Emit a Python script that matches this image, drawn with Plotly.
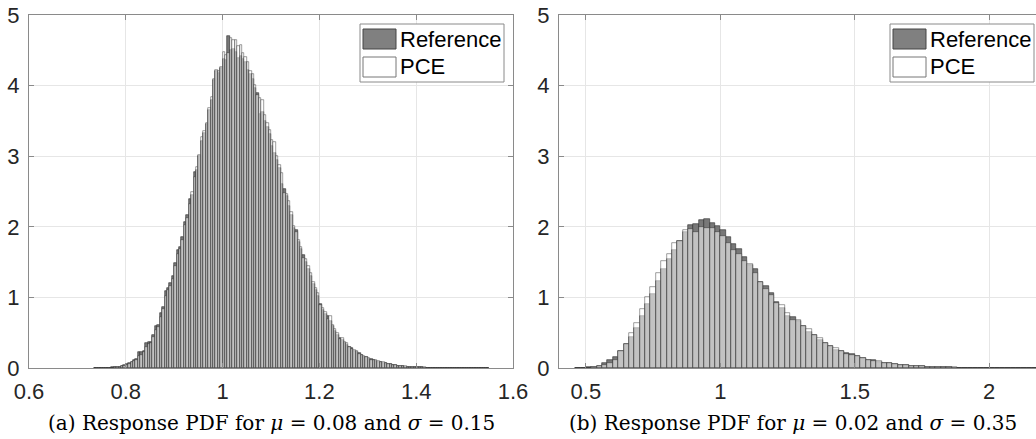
import numpy as np
import plotly.graph_objects as go

W, H = 1036, 439

# ---------------- data: panel (a) ----------------
left_bin_start = 0.735
left_bin_width = 0.005
left_reference = [
    0.001, 0.002, 0.002, 0.003, 0.004, 0.005, 0.007, 0.009, 0.012, 0.016,   # 0.735-0.780
    0.021, 0.028, 0.040, 0.058, 0.075, 0.090, 0.120, 0.130, 0.230, 0.225,   # 0.785-0.830
    0.235, 0.350, 0.365, 0.375, 0.467, 0.600, 0.610, 0.775, 0.870, 1.090,   # 0.835-0.880
    1.140, 1.200, 1.300, 1.490, 1.670, 1.720, 1.860, 2.070, 2.170, 2.400,   # 0.885-0.930
    2.450, 2.770, 2.800, 3.000, 3.220, 3.330, 3.450, 3.660, 3.800, 4.080,   # 0.935-0.980
    4.200, 4.180, 4.250, 4.370, 4.360, 4.700, 4.500, 4.520, 4.480, 4.390,   # 0.985-1.030
    4.420, 4.380, 4.330, 4.220, 4.160, 4.100, 3.960, 3.890, 3.600, 3.620,   # 1.035-1.080
    3.500, 3.420, 3.320, 3.150, 3.050, 2.950, 2.840, 2.600, 2.530, 2.440,   # 1.085-1.130
    2.300, 2.170, 1.980, 1.960, 1.780, 1.680, 1.600, 1.500, 1.400, 1.300,   # 1.135-1.180
    1.190, 1.100, 1.020, 0.910, 0.820, 0.770, 0.730, 0.660, 0.600, 0.530,   # 1.185-1.230
    0.470, 0.430, 0.390, 0.350, 0.330, 0.300, 0.280, 0.240, 0.220, 0.210,   # 1.235-1.280
    0.180, 0.160, 0.150, 0.130, 0.130, 0.110, 0.100, 0.090, 0.090, 0.075,   # 1.285-1.330
    0.065, 0.057, 0.050, 0.043, 0.038, 0.032, 0.028, 0.025, 0.021, 0.018,   # 1.335-1.380
    0.016, 0.013, 0.011, 0.010, 0.009, 0.008, 0.007, 0.006, 0.005, 0.005,   # 1.385-1.430
    0.004, 0.003, 0.003, 0.003, 0.002, 0.002, 0.002, 0.002, 0.001, 0.001,   # 1.435-1.480
    0.001, 0.001, 0.001, 0.001, 0.001, 0.001, 0.001, 0.001, 0.001, 0.001,   # 1.485-1.530
    0.001, 0.001, 0.001,                                                    # 1.535-1.545
]
left_pce = [
    0.001, 0.001, 0.002, 0.002, 0.003, 0.004, 0.005, 0.007, 0.009, 0.012,
    0.016, 0.022, 0.030, 0.045, 0.062, 0.080, 0.100, 0.115, 0.165, 0.180,
    0.220, 0.300, 0.340, 0.360, 0.440, 0.540, 0.580, 0.720, 0.830, 1.020,
    1.100, 1.160, 1.260, 1.440, 1.610, 1.680, 1.820, 2.020, 2.120, 2.330,
    2.490, 2.700, 2.850, 3.020, 3.270, 3.350, 3.470, 3.680, 3.840, 4.100,
    4.220, 4.200, 4.270, 4.470, 4.440, 4.460, 4.670, 4.640, 4.640, 4.560,
    4.570, 4.460, 4.400, 4.340, 4.200, 4.170, 4.010, 3.860, 3.830, 3.800,
    3.580, 3.470, 3.370, 3.230, 3.200, 3.000, 2.880, 2.760, 2.480, 2.470,
    2.360, 2.210, 2.010, 1.920, 1.810, 1.720, 1.560, 1.540, 1.440, 1.340,
    1.220, 1.140, 1.060, 0.890, 0.850, 0.800, 0.700, 0.730, 0.610, 0.550,
    0.490, 0.410, 0.420, 0.370, 0.350, 0.300, 0.270, 0.250, 0.240, 0.200,
    0.190, 0.170, 0.150, 0.140, 0.120, 0.120, 0.110, 0.100, 0.090, 0.080,
    0.070, 0.060, 0.055, 0.047, 0.040, 0.035, 0.030, 0.027, 0.023, 0.020,
    0.017, 0.015, 0.013, 0.011, 0.010, 0.009, 0.008, 0.007, 0.006, 0.005,
    0.004, 0.004, 0.003, 0.003, 0.003, 0.002, 0.002, 0.002, 0.002, 0.001,
    0.001, 0.001, 0.001, 0.001, 0.001, 0.001, 0.001, 0.001, 0.001, 0.001,
    0.001, 0.001, 0.001,
]

# ---------------- data: panel (b) ----------------
right_bin_start = 0.46
right_bin_width = 0.02
right_reference = [
    0.002, 0.004, 0.008, 0.020, 0.030, 0.070, 0.113, 0.155, 0.245, 0.340,   # 0.46-0.64
    0.445, 0.560, 0.740, 0.906, 1.055, 1.230, 1.400, 1.540, 1.670, 1.800,   # 0.66-0.84
    1.930, 2.025, 2.040, 2.090, 2.115, 2.050, 2.010, 1.955, 1.850, 1.752,   # 0.86-1.04
    1.686, 1.577, 1.465, 1.398, 1.220, 1.160, 1.058, 0.940, 0.845, 0.737,   # 1.06-1.24
    0.718, 0.665, 0.595, 0.515, 0.463, 0.397, 0.359, 0.312, 0.255, 0.246,   # 1.26-1.44
    0.208, 0.194, 0.170, 0.146, 0.109, 0.109, 0.090, 0.076, 0.066, 0.052,   # 1.46-1.64
    0.045, 0.038, 0.032, 0.028, 0.024, 0.019, 0.016, 0.013, 0.011, 0.009,   # 1.66-1.84
    0.007, 0.006, 0.005, 0.004, 0.004, 0.003, 0.003, 0.002, 0.002, 0.002,   # 1.86-2.04
    0.002, 0.001, 0.001, 0.001, 0.001, 0.001, 0.001,                        # 2.06-2.18
]
right_pce = [
    0.001, 0.003, 0.006, 0.015, 0.025, 0.040, 0.070, 0.120, 0.240, 0.340,
    0.490, 0.640, 0.840, 1.000, 1.150, 1.340, 1.520, 1.615, 1.775, 1.800,
    1.955, 1.970, 1.930, 2.000, 1.990, 1.980, 1.920, 1.870, 1.770, 1.670,
    1.620, 1.510, 1.480, 1.350, 1.220, 1.120, 1.035, 0.915, 0.893, 0.784,
    0.680, 0.675, 0.595, 0.548, 0.463, 0.420, 0.359, 0.312, 0.289, 0.240,
    0.200, 0.190, 0.170, 0.146, 0.120, 0.105, 0.095, 0.076, 0.066, 0.057,
    0.045, 0.040, 0.034, 0.028, 0.024, 0.021, 0.017, 0.014, 0.012, 0.010,
    0.008, 0.007, 0.006, 0.005, 0.004, 0.004, 0.003, 0.003, 0.003, 0.002,
    0.002, 0.002, 0.002, 0.001, 0.001, 0.001, 0.001,
]

left_xticks = [0.6, 0.8, 1.0, 1.2, 1.4, 1.6]
left_xticklabels = ["0.6", "0.8", "1", "1.2", "1.4", "1.6"]
right_xticks = [0.5, 1.0, 1.5, 2.0]
right_xticklabels = ["0.5", "1", "1.5", "2"]
y_ticks = [0, 1, 2, 3, 4, 5]
series_names = ["Reference", "PCE"]
captions = [
    "(a) Response PDF for <i>μ</i> = 0.08 and <i>σ</i> = 0.15",
    "(b) Response PDF for <i>μ</i> = 0.02 and <i>σ</i> = 0.35",
]

# ---------------- style ----------------
REF_FILL = "#787878"
REF_EDGE = "#2a2a2a"
PCE_FILL = "rgba(255,255,255,0.55)"
PCE_EDGE = "rgba(40,40,40,0.75)"
AXIS_COL = "#8a8a8a"
GRID_COL = "#e6e6e6"
TICK_FONT = dict(family="Liberation Sans, Arial, sans-serif", size=22, color="#262626")


def px(x):
    return x / W


def py(y):
    return 1 - y / H


def centers(start, width, n):
    return start + width * (np.arange(n) + 0.5)


fig = go.Figure()

panels = [
    dict(xa="x", ya="y", start=left_bin_start, width=left_bin_width,
         ref=left_reference, pce=left_pce),
    dict(xa="x2", ya="y2", start=right_bin_start, width=right_bin_width,
         ref=right_reference, pce=right_pce),
]
for p in panels:
    xc = centers(p["start"], p["width"], len(p["ref"]))
    fig.add_trace(go.Bar(
        x=xc, y=p["ref"], width=p["width"], name=series_names[0],
        marker=dict(color=REF_FILL, line=dict(color=REF_EDGE, width=0.6)),
        xaxis=p["xa"], yaxis=p["ya"], showlegend=False,
    ))
    xc2 = centers(p["start"], p["width"], len(p["pce"]))
    fig.add_trace(go.Bar(
        x=xc2, y=p["pce"], width=p["width"], name=series_names[1],
        marker=dict(color=PCE_FILL, line=dict(color=PCE_EDGE, width=0.6)),
        xaxis=p["xa"], yaxis=p["ya"], showlegend=False,
    ))

common_x = dict(showline=True, linecolor=AXIS_COL, linewidth=1, ticks="inside",
                ticklen=5, tickcolor=AXIS_COL, showgrid=True, gridcolor=GRID_COL,
                gridwidth=1, zeroline=False, tickfont=TICK_FONT, automargin=False,
                ticklabelstandoff=4, fixedrange=True)
common_y = dict(common_x)

# plot area pixel boxes
L_X0, L_X1 = 29, 513
R_X0, R_X1 = 559, 1036
Y_TOP, Y_BOT = 15, 368
left_range = [0.6, 1.6]
right_range = [0.4, 0.4 + (R_X1 - R_X0) * (1.0 / (L_X1 - L_X0)) * (1.8 / 1.0)]

fig.update_layout(
    width=W, height=H,
    margin=dict(l=0, r=0, t=0, b=0),
    paper_bgcolor="white", plot_bgcolor="white",
    barmode="overlay", bargap=0,
    xaxis=dict(common_x, domain=[px(L_X0), px(L_X1)], range=left_range, anchor="y",
               tickvals=left_xticks, ticktext=left_xticklabels, mirror="ticks"),
    yaxis=dict(common_y, domain=[py(Y_BOT), py(Y_TOP)], range=[0, 5], anchor="x",
               tickvals=y_ticks, mirror="ticks"),
    xaxis2=dict(common_x, domain=[px(R_X0), 1.0], range=right_range, anchor="y2",
                tickvals=right_xticks, ticktext=right_xticklabels, mirror="ticks"),
    yaxis2=dict(common_y, domain=[py(Y_BOT), py(Y_TOP)], range=[0, 5], anchor="x2",
                tickvals=y_ticks, mirror=False),
)

shapes = []
annotations = []
# legends drawn as boxes (one per panel)
for lx in (360, 890):
    shapes.append(dict(type="rect", xref="paper", yref="paper",
                       x0=px(lx), x1=px(lx + 144), y0=py(82), y1=py(24),
                       line=dict(color="#8a8a8a", width=1), fillcolor="white", layer="above"))
    shapes.append(dict(type="rect", xref="paper", yref="paper",
                       x0=px(lx + 3), x1=px(lx + 36), y0=py(49), y1=py(29),
                       line=dict(color="#444444", width=1), fillcolor="#808080", layer="above"))
    shapes.append(dict(type="rect", xref="paper", yref="paper",
                       x0=px(lx + 3), x1=px(lx + 36), y0=py(77), y1=py(57),
                       line=dict(color="#777777", width=1), fillcolor="white", layer="above"))
    for name, yc in zip(series_names, (39, 67)):
        annotations.append(dict(text=name, xref="paper", yref="paper",
                                x=px(lx + 38), y=py(yc), xanchor="left", yanchor="middle",
                                showarrow=False,
                                font=dict(family="Liberation Sans, Arial, sans-serif",
                                          size=22, color="black")))

for cap, xc in zip(captions, ((L_X0 + L_X1) / 2, 793)):
    annotations.append(dict(text=cap, xref="paper", yref="paper", x=px(xc), y=py(423),
                            xanchor="center", yanchor="middle", showarrow=False,
                            font=dict(family="DejaVu Serif, Liberation Serif, serif",
                                      size=20, color="black")))

fig.update_layout(shapes=shapes, annotations=annotations)
fig.write_html(
    "out.html",
    config={"displayModeBar": False},
    post_script="document.body.style.margin='0px';document.body.style.overflow='hidden';",
)
